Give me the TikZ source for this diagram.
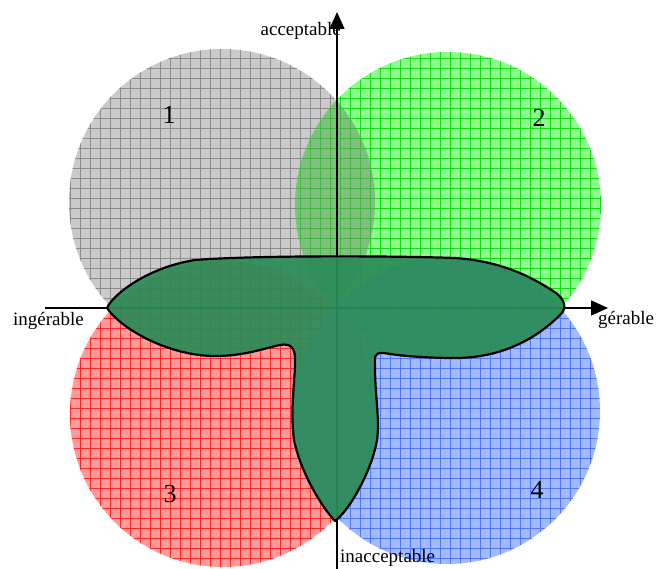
\documentclass[tikz,border=0pt]{standalone}
\usepackage{fontspec}
\setmainfont{Liberation Serif}
\usetikzlibrary{arrows.meta,patterns.meta}
\definecolor{gbase}{RGB}{182,182,182}
\definecolor{gline}{RGB}{140,140,140}
\definecolor{lensc}{RGB}{130,140,130}
\definecolor{vbase}{RGB}{95,248,95}
\definecolor{vline}{RGB}{20,220,20}
\definecolor{rbase}{RGB}{255,115,115}
\definecolor{rline}{RGB}{255,40,40}
\definecolor{bbase}{RGB}{125,158,255}
\definecolor{bline}{RGB}{80,118,250}
\definecolor{blobfill}{RGB}{44,140,88}
\tikzset{
  disc/.style 2 args={circle, inner sep=0pt, minimum size=306pt,
    fill opacity=0.72, preaction={fill=#1},
    pattern={Hatch[distance=10pt,line width=1pt]}, pattern color=#2},
  axis/.style={line width=1.5pt, -{Triangle[length=17pt,width=15pt]}},
  axlabel/.style={font=\fontsize{19}{19}\selectfont, inner sep=0pt},
  numlabel/.style={font=\fontsize{26}{26}\selectfont, inner sep=0pt},
  blob/.style={fill=blobfill, fill opacity=0.93, draw=black, line width=2.2pt, line join=round}
}
\begin{document}
\begin{tikzpicture}[x=1pt,y=-1pt]
\useasboundingbox (0,0) rectangle (656,569);
% circles
\node[disc={gbase}{gline}] (c1) at (222,202) {};
\node[disc={vbase}{vline}] (c2) at (448,205) {};
\begin{scope}
  \clip (c2.center) circle[radius=153];
  \fill[lensc, fill opacity=0.45] (c1.center) circle[radius=153];
\end{scope}
\node[disc={rbase}{rline}] (c3) at (223,414) {};
\node[disc={bbase}{bline}] (c4) at (447,411) {};
% axes
\coordinate (xl) at (45,308);
\coordinate (xr) at (608,308);
\coordinate (yb) at (337,569);
\coordinate (yt) at (337,12);
\draw[axis] (xl) -- (xr);
\draw[axis] (yb) -- (yt);
% blob
\draw[blob] (107,308)
  .. controls (112,296) and (145,268) .. (195,260)
  .. controls (260,255) and (400,256) .. (455,258)
  .. controls (500,261) and (530,276) .. (553,291)
  .. controls (566,299) and (567,309) .. (560,315)
  .. controls (535,340) and (500,358) .. (455,358)
  .. controls (420,358) and (395,355) .. (384,353)
  .. controls (373,352) and (375,358) .. (375,368)
  .. controls (375,395) and (380,420) .. (377,440)
  .. controls (372,470) and (350,510) .. (335,521)
  .. controls (320,505) and (300,470) .. (294,440)
  .. controls (290,410) and (295,380) .. (295,363)
  .. controls (296,347) and (290,343) .. (280,345)
  .. controls (265,348) and (245,356) .. (215,356)
  .. controls (170,356) and (122,330) .. (107,308) -- cycle;
% labels
\node[axlabel, anchor=base east] (lacc) at (341,36) {acceptable};
\node[axlabel, anchor=base west] (ling) at (13,326) {ingérable};
\node[axlabel, anchor=base west] (lger) at (598,325) {gérable};
\node[axlabel, anchor=base west] (linac) at (340,562) {inacceptable};
\node[numlabel] (n1) at (169,115) {1};
\node[numlabel] (n2) at (539,118) {2};
\node[numlabel] (n3) at (170,494) {3};
\node[numlabel] (n4) at (537,490) {4};
\end{tikzpicture}
\end{document}
